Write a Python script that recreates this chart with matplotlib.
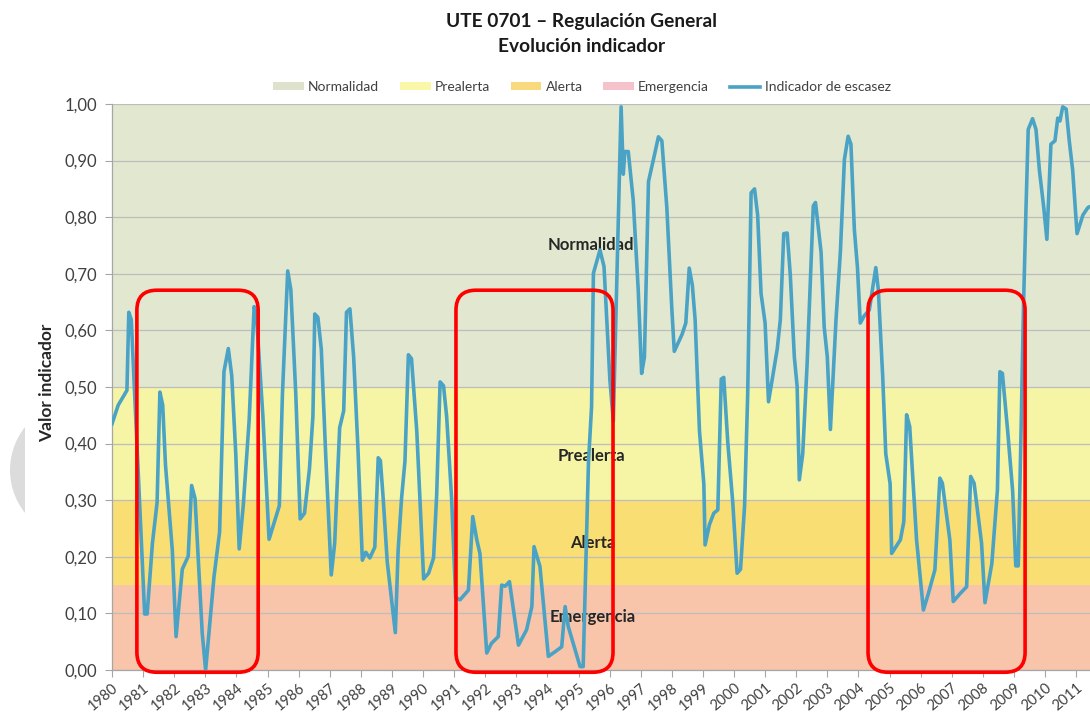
import matplotlib
matplotlib.use('Agg')
import matplotlib.pyplot as plt
from matplotlib.patches import Patch, FancyBboxPatch, Circle
from matplotlib.lines import Line2D
from matplotlib.transforms import IdentityTransform, Bbox

plt.rcParams['font.family'] = ['Lato', 'DejaVu Sans']

# indicador de escasez, vertices (año decimal, valor)
years = [1980.00, 1980.20, 1980.48, 1980.54, 1980.62, 1981.05, 1981.13, 1981.30, 1981.45, 1981.54,
         1981.63, 1981.72, 1981.94, 1982.06, 1982.26, 1982.45, 1982.56, 1982.67, 1982.90, 1983.01,
         1983.28, 1983.46, 1983.60, 1983.74, 1983.85, 1983.98, 1984.09, 1984.22, 1984.41, 1984.57,
         1984.64, 1984.85, 1985.05, 1985.27, 1985.38, 1985.48, 1985.65, 1985.75, 1985.91, 1986.05,
         1986.19, 1986.35, 1986.46, 1986.52, 1986.62, 1986.73, 1986.87, 1987.05, 1987.16, 1987.32,
         1987.45, 1987.54, 1987.65, 1987.77, 1987.91, 1988.05, 1988.16, 1988.29, 1988.45, 1988.56,
         1988.63, 1988.72, 1988.85, 1989.11, 1989.20, 1989.31, 1989.42, 1989.53, 1989.63, 1989.80,
         1990.02, 1990.18, 1990.34, 1990.44, 1990.55, 1990.66, 1990.76, 1990.92, 1991.05, 1991.19,
         1991.46, 1991.60, 1991.73, 1991.83, 1992.05, 1992.20, 1992.42, 1992.53, 1992.64, 1992.78,
         1993.07, 1993.33, 1993.50, 1993.57, 1993.76, 1994.03, 1994.24, 1994.46, 1994.57, 1994.67,
         1994.83, 1995.05, 1995.15, 1995.32, 1995.42, 1995.48, 1995.69, 1995.82, 1996.01, 1996.12,
         1996.37, 1996.44, 1996.49, 1996.60, 1996.76, 1996.92, 1997.03, 1997.12, 1997.25, 1997.41,
         1997.57, 1997.68, 1997.84, 1998.00, 1998.08, 1998.33, 1998.45, 1998.56, 1998.66, 1998.75,
         1998.89, 1999.03, 1999.07, 1999.21, 1999.35, 1999.48, 1999.59, 1999.67, 1999.80, 1999.96,
         2000.10, 2000.21, 2000.34, 2000.44, 2000.55, 2000.66, 2000.76, 2000.87, 2001.00, 2001.11,
         2001.25, 2001.39, 2001.49, 2001.60, 2001.71, 2001.81, 2001.94, 2002.03, 2002.10, 2002.21,
         2002.35, 2002.55, 2002.62, 2002.80, 2002.90, 2003.00, 2003.10, 2003.17, 2003.28, 2003.42,
         2003.55, 2003.67, 2003.76, 2003.87, 2003.97, 2004.06, 2004.19, 2004.35, 2004.56, 2004.64,
         2004.78, 2004.88, 2005.02, 2005.07, 2005.35, 2005.46, 2005.55, 2005.65, 2005.87, 2006.09,
         2006.25, 2006.46, 2006.62, 2006.70, 2006.94, 2007.05, 2007.27, 2007.48, 2007.61, 2007.72,
         2007.96, 2008.07, 2008.29, 2008.47, 2008.55, 2008.63, 2008.80, 2008.96, 2009.06, 2009.14,
         2009.23, 2009.31, 2009.39, 2009.46, 2009.60, 2009.71, 2009.82, 2009.96, 2010.06, 2010.19,
         2010.32, 2010.41, 2010.48, 2010.57, 2010.68, 2010.78, 2010.89, 2011.03, 2011.22, 2011.38,
         2011.50]
values = [0.435, 0.468, 0.494, 0.632, 0.619, 0.099, 0.099, 0.224, 0.296, 0.491,
          0.468, 0.362, 0.211, 0.059, 0.178, 0.201, 0.326, 0.303, 0.066, 0.000,
          0.165, 0.244, 0.527, 0.568, 0.520, 0.382, 0.214, 0.290, 0.441, 0.642,
          0.630, 0.450, 0.231, 0.270, 0.290, 0.487, 0.705, 0.672, 0.487, 0.267,
          0.277, 0.356, 0.448, 0.629, 0.623, 0.567, 0.382, 0.168, 0.224, 0.428,
          0.458, 0.632, 0.638, 0.553, 0.389, 0.194, 0.208, 0.198, 0.217, 0.375,
          0.370, 0.303, 0.191, 0.066, 0.211, 0.303, 0.369, 0.557, 0.550, 0.422,
          0.161, 0.171, 0.198, 0.310, 0.509, 0.502, 0.448, 0.303, 0.128, 0.124,
          0.141, 0.271, 0.230, 0.206, 0.030, 0.047, 0.059, 0.150, 0.148, 0.156,
          0.044, 0.071, 0.112, 0.218, 0.183, 0.024, 0.032, 0.041, 0.112, 0.077,
          0.047, 0.006, 0.006, 0.366, 0.465, 0.701, 0.742, 0.713, 0.512, 0.440,
          0.995, 0.876, 0.916, 0.916, 0.830, 0.672, 0.524, 0.553, 0.863, 0.902,
          0.942, 0.935, 0.817, 0.639, 0.563, 0.593, 0.613, 0.710, 0.680, 0.619,
          0.422, 0.329, 0.221, 0.257, 0.277, 0.283, 0.514, 0.517, 0.402, 0.296,
          0.171, 0.178, 0.290, 0.487, 0.843, 0.850, 0.804, 0.665, 0.613, 0.474,
          0.520, 0.567, 0.619, 0.771, 0.772, 0.698, 0.553, 0.501, 0.336, 0.382,
          0.540, 0.820, 0.826, 0.738, 0.606, 0.553, 0.425, 0.501, 0.619, 0.738,
          0.902, 0.943, 0.929, 0.778, 0.711, 0.613, 0.626, 0.636, 0.711, 0.672,
          0.520, 0.382, 0.329, 0.206, 0.230, 0.262, 0.451, 0.430, 0.230, 0.106,
          0.135, 0.177, 0.339, 0.330, 0.230, 0.121, 0.135, 0.147, 0.342, 0.330,
          0.224, 0.119, 0.188, 0.318, 0.527, 0.524, 0.422, 0.316, 0.184, 0.184,
          0.422, 0.646, 0.817, 0.955, 0.974, 0.955, 0.883, 0.817, 0.761, 0.929,
          0.935, 0.975, 0.970, 0.995, 0.991, 0.935, 0.883, 0.771, 0.804, 0.817,
          0.820]

# umbrales de los estados
band_names = ['Normalidad', 'Prealerta', 'Alerta', 'Emergencia']
band_lo = [0.50, 0.30, 0.15, 0.00]
band_hi = [1.00, 0.50, 0.30, 0.15]
band_colors = ['#E2E8D0', '#F6F5A6', '#F9DE74', '#F8C5AB']
legend_colors = ['#DCE2CB', '#FAF8A8', '#F8D97E', '#F5C1CB']
label_pos = [(1995.4, 0.751), (1995.4, 0.378), (1995.45, 0.224), (1995.45, 0.094)]

# periodos secos marcados en rojo
box_x0 = [1980.80, 1991.06, 2004.31]
box_x1 = [1984.70, 1996.11, 2009.36]
box_y0 = -0.004
box_y1 = 0.671

tick_years = list(range(1980, 2012))
y_ticks = [i / 10 for i in range(11)]

line_color = '#4AA3C4'
W, H = 1090, 718

fig = plt.figure(figsize=(W / 100, H / 100), dpi=100)
ax = fig.add_axes([112 / W, 1 - 670 / H, 978 / W, 566 / H])

for lo, hi, c in zip(band_lo, band_hi, band_colors):
    ax.axhspan(lo, hi, color=c, lw=0, zorder=0)
for name, (px, py) in zip(band_names, label_pos):
    ax.text(px, py, name, ha='center', va='center', fontsize=12,
            fontweight='bold', color='#262626', zorder=2)

ax.plot(years, values, color=line_color, lw=2.6, zorder=3, solid_joinstyle='round')

ax.set_xlim(1980, 1980 + 978 / 31.1)
ax.set_ylim(0, 1)
ax.set_axisbelow(True)
ax.yaxis.grid(True, color='#BDBDBD', lw=0.9)
ax.set_yticks(y_ticks)
ax.set_yticklabels([f'{v:.2f}'.replace('.', ',') for v in y_ticks])
ax.set_xticks(tick_years)
ax.set_xticklabels([str(y) for y in tick_years], rotation=40, ha='right',
                   rotation_mode='anchor')
ax.tick_params(axis='y', labelsize=12, colors='#404040', length=5, width=0.8,
               color='#A6A6A6', pad=6)
ax.tick_params(axis='x', labelsize=10.5, colors='#404040', length=5, width=0.8,
               color='#A6A6A6', pad=3)
for s in ['top', 'right']:
    ax.spines[s].set_visible(False)
for s in ['left', 'bottom']:
    ax.spines[s].set_color('#A6A6A6')
    ax.spines[s].set_linewidth(0.9)

fig.text(47 / W, 1 - 383 / H, 'Valor indicador', rotation=90, ha='center',
         va='center', fontsize=12.5, fontweight='bold', color='#262626')
fig.text(582 / W, 1 - 22 / H, 'UTE 0701 – Regulación General', ha='center',
         va='center', fontsize=13.8, fontweight='bold', color='#1a1a1a')
fig.text(582 / W, 1 - 47 / H, 'Evolución indicador', ha='center',
         va='center', fontsize=13.8, fontweight='bold', color='#1a1a1a')

handles = [Patch(facecolor=c, edgecolor='none') for c in legend_colors]
handles.append(Line2D([0], [0], color=line_color, lw=2.6))
fig.legend(handles, band_names + ['Indicador de escasez'], loc='center',
           bbox_to_anchor=(582 / W, 1 - 87 / H), ncol=5, frameon=False,
           fontsize=10, handlelength=2.2, handleheight=0.5, handletextpad=0.3,
           columnspacing=1.5, labelcolor='#404040')

# recuadros rojos redondeados (en pixeles para que las esquinas sean circulares)
for x0, x1 in zip(box_x0, box_x1):
    p0 = ax.transData.transform((x0, box_y0))
    p1 = ax.transData.transform((x1, box_y1))
    rect = FancyBboxPatch((p0[0], p0[1]), p1[0] - p0[0], p1[1] - p0[1],
                          boxstyle='round,pad=0,rounding_size=20',
                          transform=IdentityTransform(), facecolor='none',
                          edgecolor='#FF0000', lw=2.6, zorder=10, clip_on=False)
    fig.add_artist(rect)

# marca de agua gris a la izquierda
circ = Circle((79, H - 470), 69, transform=IdentityTransform(),
              facecolor='#DCDCDC', edgecolor='none')
circ.set_clip_box(Bbox([[0, 0], [25, H]]))
fig.add_artist(circ)

fig.savefig('out.png', dpi=100)
